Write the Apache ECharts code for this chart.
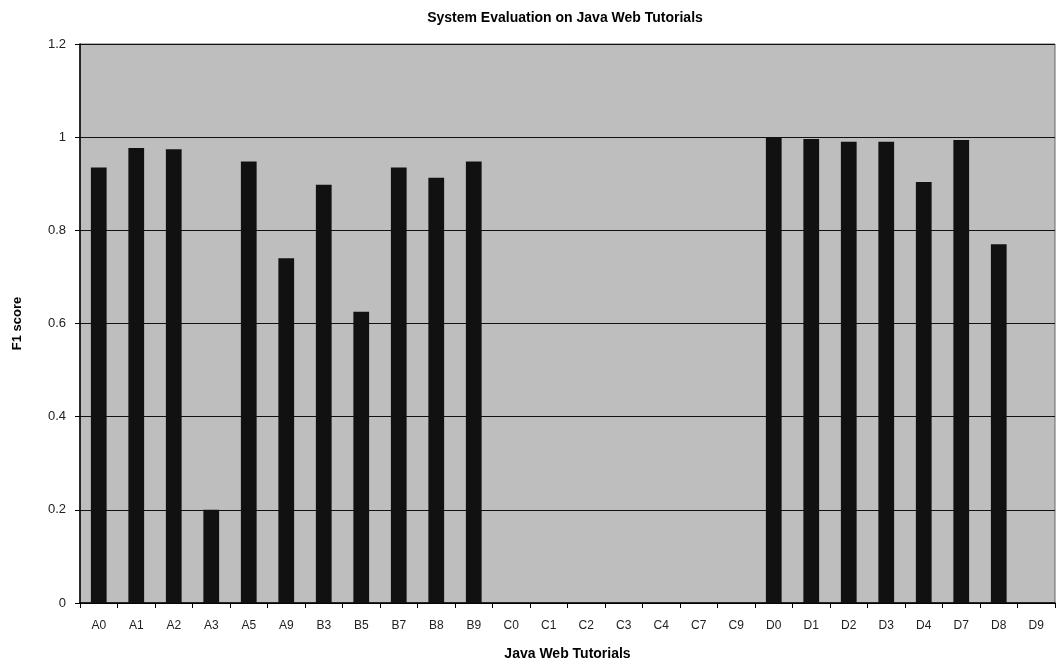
<!DOCTYPE html>
<html>
<head>
<meta charset="utf-8">
<script src="https://cdn.jsdelivr.net/npm/echarts@6/dist/echarts.min.js"></script>
<style>
	html, body { margin: 0; padding: 0; background: #fff; }
	#chart { width: 1058px; height: 671px; }
</style>
</head>
<body>
<div id="chart"></div>
<script>
	// tutorial ids along the x axis
	var tutorials = ['A0', 'A1', 'A2', 'A3', 'A5', 'A9', 'B3', 'B5', 'B7', 'B8', 'B9',
		'C0', 'C1', 'C2', 'C3', 'C4', 'C7', 'C9',
		'D0', 'D1', 'D2', 'D3', 'D4', 'D7', 'D8', 'D9'];
	// F1 score per tutorial
	var f1Scores = [0.935, 0.977, 0.974, 0.2, 0.948, 0.74, 0.898, 0.625, 0.935, 0.913, 0.948,
		0, 0, 0, 0, 0, 0, 0,
		1.0, 0.996, 0.99, 0.99, 0.904, 0.994, 0.77, 0];

	var chart = echarts.init(document.getElementById('chart'));
	var font = 'Liberation Sans, Arial, sans-serif';

	var option = {
		animation: false,
		title: {
			text: 'System Evaluation on Java Web Tutorials',
			left: 560,
			textAlign: 'center',
			top: 6,
			textStyle: { fontFamily: font, fontSize: 14, fontWeight: 'bold', color: '#000' }
		},
		grid: {
			left: 80,
			right: 3,
			top: 44,
			bottom: 68,
			show: true,
			backgroundColor: '#bebebe',
			borderColor: '#666',
			borderWidth: 1
		},
		xAxis: {
			type: 'category',
			data: tutorials,
			boundaryGap: true,
			name: 'Java Web Tutorials',
			nameLocation: 'middle',
			nameGap: 44,
			nameTextStyle: { fontFamily: font, fontSize: 14, fontWeight: 'bold', color: '#000' },
			axisLine: { lineStyle: { color: '#000', width: 1.5 } },
			axisTick: { show: true, length: 5, lineStyle: { color: '#000' } },
			axisLabel: { interval: 0, fontFamily: font, fontSize: 12, color: '#222', margin: 17 }
		},
		yAxis: {
			type: 'value',
			min: 0,
			max: 1.2,
			interval: 0.2,
			name: 'F1 score',
			nameLocation: 'middle',
			nameGap: 56,
			nameRotate: 90,
			nameTextStyle: { fontFamily: font, fontSize: 13, fontWeight: 'bold', color: '#000' },
			axisLine: { show: true, lineStyle: { color: '#000', width: 1.5 } },
			axisTick: { show: true, length: 5, lineStyle: { color: '#000' } },
			axisLabel: {
				fontFamily: font, fontSize: 13, color: '#222', margin: 14,
				formatter: function (v) { return String(Math.round(v * 10) / 10); }
			},
			splitLine: { show: true, lineStyle: { color: '#111', width: 1.2 } }
		},
		series: [{
			type: 'bar',
			data: f1Scores,
			barWidth: '42%',
			itemStyle: { color: '#111' }
		}]
	};
	chart.setOption(option);
</script>
</body>
</html>
